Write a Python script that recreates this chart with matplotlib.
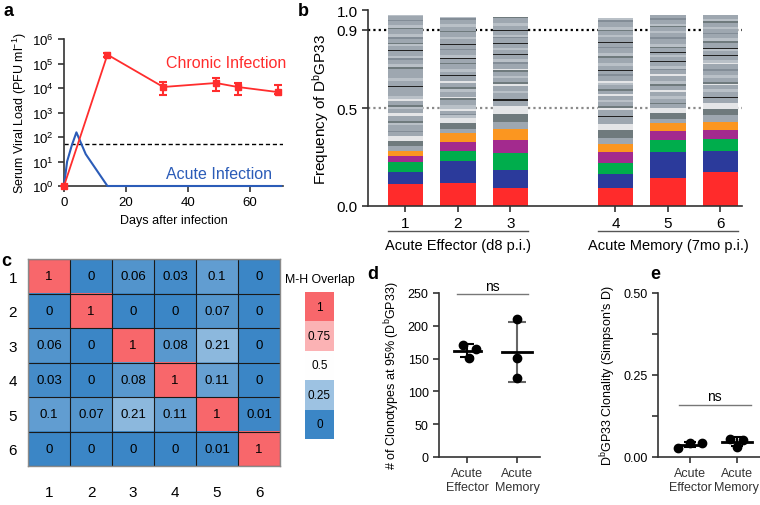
import numpy as np
import matplotlib.pyplot as plt
from matplotlib.colors import LinearSegmentedColormap
from matplotlib.ticker import NullLocator, FixedLocator

plt.rcParams['font.family'] = ['Liberation Sans', 'DejaVu Sans']
plt.rcParams['mathtext.fontset'] = 'custom'
plt.rcParams['mathtext.rm'] = 'Liberation Sans'
plt.rcParams['mathtext.it'] = 'Liberation Sans:italic'
plt.rcParams['axes.linewidth'] = 1.2
plt.rcParams['axes.edgecolor'] = '#333333'
plt.rcParams['xtick.major.width'] = 1.2
plt.rcParams['ytick.major.width'] = 1.2
plt.rcParams['xtick.color'] = '#333333'
plt.rcParams['ytick.color'] = '#333333'
plt.rcParams['xtick.labelcolor'] = 'black'
plt.rcParams['ytick.labelcolor'] = 'black'

# ---- panel a: viral load
acute_days = [0, 1, 2.5, 4, 7, 14, 70]
acute_load = [1, 10, 45, 155, 20, 1, 1]
chronic_days = [0, 14, 32, 49, 56, 69]
chronic_load = [1, 2.3e5, 1.1e4, 1.6e4, 1.1e4, 6.8e3]
chronic_low = [1, 1.9e5, 5.2e3, 7.7e3, 5.2e3, 5.5e3]
chronic_high = [1, 2.8e5, 1.7e4, 2.5e4, 1.65e4, 1.36e4]
detect_limit = 50

# ---- panel b: clonotype frequencies
samples = ['1', '2', '3', '4', '5', '6']
sample_pos = [1, 2, 3, 5, 6, 7]
top5 = [
    [0.111, 0.064, 0.048, 0.031, 0.027],
    [0.116, 0.114, 0.049, 0.045, 0.046],
    [0.092, 0.090, 0.087, 0.067, 0.059],
    [0.090, 0.072, 0.059, 0.052, 0.044],
    [0.141, 0.137, 0.061, 0.043, 0.039],
    [0.172, 0.107, 0.065, 0.043, 0.041],
]
# remaining clonotypes (per mille), with shade codes
rest_h1 = [26, 25, 26, 20, 4, 30, 10, 12, 25, 15, 20, 12, 10, 20, 8, 15, 30, 20, 5, 25, 12, 20, 5,
           25, 10, 12, 4, 20, 8, 12, 25, 4, 20, 10, 8, 20, 8, 15, 25, 8, 12, 20, 8, 18, 8]
rest_c1 = "mdwmsmldmwmldmwlmmkmlmkmdlkmslmkmldmslmdlmsml"
rest_h2 = [25, 28, 25, 15, 4, 20, 8, 20, 25, 10, 8, 25, 15, 10, 20, 8, 25, 5, 20, 12, 25, 8, 20,
           4, 15, 25, 8, 20, 4, 25, 10, 25, 8, 20, 15, 20, 8, 5]
rest_c2 = "mdwlsmwlmdwmldmwmkmlmdmklmsmkmlmdmlmsl"
rest_h3 = [35, 40, 38, 30, 8, 30, 10, 25, 10, 10, 20, 12, 20, 10, 8, 25, 10, 15, 20, 5, 20, 10,
           20, 4, 25, 8, 10, 20, 4, 20, 15, 25, 6]
rest_c3 = "mdwmkmlmwdmlmdwmslmkmlmkmslmkmlmd"
rest_h4 = [32, 40, 30, 33, 8, 30, 8, 12, 20, 10, 20, 10, 15, 10, 20, 15, 8, 25, 8, 20, 5, 20, 12,
           4, 25, 8, 15, 25, 8, 20, 4, 25, 10, 20, 8, 15, 25, 8, 9]
rest_c4 = "mdwmkmwdmlmwmdmlwmsmkmlkmdlmsmkmlmdlmsl"
rest_h5 = [25, 30, 25, 20, 6, 20, 12, 25, 8, 20, 10, 15, 25, 10, 20, 8, 15, 20, 5, 20, 10, 10, 5,
           20, 8, 15, 25, 8, 20, 10, 20, 8, 12, 20, 8, 16]
rest_c5 = "mdwmdmlmwmdlmwmslmkmlmkmdlmsmlmdlmsm"
rest_h6 = [35, 34, 31, 25, 5, 25, 12, 20, 10, 10, 20, 15, 20, 8, 25, 8, 15, 20, 5, 20, 12, 5, 25,
           8, 15, 20, 8, 20, 10, 20, 8, 12, 21]
rest_c6 = "mdwmkmlmwdmlmsmwlmkmlkmdlmsmlmdlm"
rest_h = [rest_h1, rest_h2, rest_h3, rest_h4, rest_h5, rest_h6]
rest_c = [rest_c1, rest_c2, rest_c3, rest_c4, rest_c5, rest_c6]

# ---- panel c: Morisita-Horn overlap
overlap = np.array([
    [1, 0, 0.06, 0.03, 0.1, 0],
    [0, 1, 0, 0, 0.07, 0],
    [0.06, 0, 1, 0.08, 0.21, 0],
    [0.03, 0, 0.08, 1, 0.11, 0],
    [0.1, 0.07, 0.21, 0.11, 1, 0.01],
    [0, 0, 0, 0, 0.01, 1],
])
legend_vals = [1, 0.75, 0.5, 0.25, 0]

# ---- panels d, e
groups = ['Acute\nEffector', 'Acute\nMemory']
clono_eff = [171, 164, 151]
clono_mem = [210, 151, 120]
clono_eff_dx = [-0.09, 0.18, 0.04]
clono_mem_dx = [0, 0, 0]
simp_eff = [0.028, 0.042, 0.042]
simp_mem = [0.056, 0.052, 0.031]
simp_eff_dx = [-0.25, 0, 0.25]
simp_mem_dx = [-0.14, 0.14, 0]

RED = '#ff2d2d'
BLUE = '#2b5cb8'
clone_cols = ['#ff2b2b', '#2b3a9b', '#00ad4c', '#a32a8e', '#fb9620']
shade = {'m': '#9ea7b0', 'd': '#6f7a7d', 'l': '#b9c0c7', 'w': '#e4e5e7',
         's': '#838d97', 'k': '#222222'}

W, H = 760, 506


def box(l, t, r, b):
    return [l / W, 1 - b / H, (r - l) / W, (b - t) / H]


fig = plt.figure(figsize=(7.6, 5.06), dpi=100)

# ================= a
ax = fig.add_axes(box(64, 40, 283, 187))
ax.set_yscale('log')
ax.axhline(detect_limit, color='k', lw=1, ls=(0, (3, 2)), zorder=1)
ax.plot(acute_days, acute_load, color=BLUE, lw=1.5, clip_on=False, zorder=3)
cl = np.array(chronic_load)
yerr = [cl - np.array(chronic_low), np.array(chronic_high) - cl]
ax.errorbar(chronic_days, chronic_load, yerr=yerr, fmt='s-', color=RED, ms=4.5, lw=1.3,
            elinewidth=1.5, capsize=3, capthick=1.5, clip_on=False, zorder=4)
ax.set_xlim(0, 70.6)
ax.set_ylim(1, 1e6)
ax.set_xticks([0, 20, 40, 60])
ax.set_yticks([10.0 ** k for k in range(7)])
ax.yaxis.set_minor_locator(NullLocator())
ax.tick_params(labelsize=9.5, length=4)
for s in ['top', 'right']:
    ax.spines[s].set_visible(False)
ax.set_xlabel('Days after infection', fontsize=9, labelpad=4)
ax.set_ylabel('Serum Viral Load (PFU ml$^{-1}$)', fontsize=9, labelpad=2)
ax.text(52.4, 10 ** 5.06, 'Chronic Infection', color=RED, fontsize=11.5, ha='center', va='center')
ax.text(50, 10 ** 0.53, 'Acute Infection', color=BLUE, fontsize=11.5, ha='center', va='center')

# ================= b
ax = fig.add_axes(box(368, 11, 742, 207))
bw = 0.67
for i, x in enumerate(sample_pos):
    bottom = 0
    for h, c in zip(top5[i], clone_cols):
        ax.bar(x, h, bw, bottom=bottom, color=c, lw=0, zorder=2)
        bottom += h
    for h, code in zip(rest_h[i], rest_c[i]):
        ax.bar(x, h / 1000, bw, bottom=bottom, color=shade[code], lw=0, zorder=2)
        bottom += h / 1000
ax.axhline(0.9, color='k', lw=1.6, ls=(0, (1, 1.4)), zorder=1)
ax.axhline(0.5, color='#8a8a8a', lw=1.6, ls=(0, (1, 1.4)), zorder=1)
ax.set_xlim(0.286, 7.41)
ax.set_ylim(0, 1)
ax.set_xticks(sample_pos)
ax.set_xticklabels(samples)
ax.set_yticks([0, 0.5, 0.9, 1.0])
ax.set_yticklabels(['0.0', '0.5', '0.9', '1.0'])
ax.tick_params(labelsize=11, length=4)
for s in ['top', 'right']:
    ax.spines[s].set_visible(False)
ax.set_ylabel(r'Frequency of D$^{\mathrm{b}}$GP33', fontsize=11, labelpad=4)
trans = ax.get_xaxis_transform()
for (a, b), name in [((1, 3), 'Acute Effector (d8 p.i.)'), ((5, 7), 'Acute Memory (7mo p.i.)')]:
    ax.plot([a - bw / 2, b + bw / 2], [-0.126, -0.126], color='#555555', lw=1,
            transform=trans, clip_on=False)
    ax.text((a + b) / 2, -0.2, name, transform=trans, ha='center', va='center', fontsize=10.5)

# ================= c
cmap = LinearSegmentedColormap.from_list('mh', ['#3b86c6', '#ffffff', '#f8676b'])
ax = fig.add_axes(box(28, 260, 280, 467))
ax.imshow(overlap, cmap=cmap, vmin=0, vmax=1, aspect='auto')
for r in range(overlap.shape[0]):
    for c in range(overlap.shape[1]):
        ax.text(c, r, f'{overlap[r, c]:g}', ha='center', va='center', fontsize=9.5)
ax.set_xticks(range(6))
ax.set_xticklabels(samples)
ax.set_yticks(range(6))
ax.set_yticklabels(samples)
ax.xaxis.set_minor_locator(FixedLocator(np.arange(-0.5, 6, 1)))
ax.yaxis.set_minor_locator(FixedLocator(np.arange(-0.5, 6, 1)))
ax.grid(which='minor', color='#1a1a1a', lw=0.8)
ax.tick_params(which='both', length=0, labelsize=11)
ax.tick_params(axis='x', pad=14)
ax.tick_params(axis='y', pad=8)
for s in ax.spines.values():
    s.set_color('#8a8a8a')
    s.set_linewidth(1)

cax = fig.add_axes(box(305, 293, 334, 440))
cax.imshow(np.array(legend_vals)[:, None], cmap=cmap, vmin=0, vmax=1, aspect='auto')
for k, v in enumerate(legend_vals):
    cax.text(0, k, f'{v:g}', ha='center', va='center', fontsize=8.5)
cax.set_xticks([])
cax.set_yticks([])
for s in cax.spines.values():
    s.set_visible(False)
fig.text(320 / W, 1 - 280 / H, 'M-H Overlap', ha='center', va='center', fontsize=8.8)


# ================= d, e
def scatter_panel(ax, vals_list, dx_list, mean_hw, cap_pts, err_cols):
    for i, (vals, dx) in enumerate(zip(vals_list, dx_list)):
        x = i + 1
        m = np.mean(vals)
        sd = np.std(vals, ddof=1)
        ax.errorbar(x, m, yerr=sd, color=err_cols[i], lw=1.5, capsize=cap_pts[i],
                    capthick=1.5, zorder=2)
        ax.plot([x - mean_hw[i], x + mean_hw[i]], [m, m], color='k', lw=2, zorder=3)
        ax.plot(x + np.array(dx), vals, 'o', color='k', ms=6, zorder=4, clip_on=False)
    ax.set_xticks([1, 2])
    ax.set_xticklabels(groups, fontsize=9, color='#333333')
    for s in ['top', 'right']:
        ax.spines[s].set_visible(False)
    ax.tick_params(labelsize=9, length=4)


ax = fig.add_axes(box(439, 294, 540, 458))
scatter_panel(ax, [clono_eff, clono_mem], [clono_eff_dx, clono_mem_dx],
              [0.27, 0.3], [5, 6.5], ['k', '#666666'])
ax.set_xlim(0.44, 2.46)
ax.set_ylim(0, 250)
ax.set_yticks(range(0, 251, 50))
ax.set_ylabel(r'# of Clonotypes at 95% (D$^{\mathrm{b}}$GP33)', fontsize=9, labelpad=4)
ax.plot([0.8, 2.22], [248, 248], color='#777777', lw=1, clip_on=False)
ax.text(1.51, 261, 'ns', ha='center', va='center', fontsize=10, clip_on=False)

ax = fig.add_axes(box(658, 294, 760, 458))
scatter_panel(ax, [simp_eff, simp_mem], [simp_eff_dx, simp_mem_dx],
              [0.22, 0.32], [4, 4], ['k', 'k'])
ax.set_xlim(0.31, 2.5)
ax.set_ylim(0, 0.5)
ax.set_yticks([0, 0.25, 0.5])
ax.set_yticklabels(['0.00', '0.25', '0.50'])
ax.yaxis.set_minor_locator(FixedLocator([0.125, 0.375]))
ax.tick_params(axis='y', which='minor', length=4, width=1.2)
ax.set_ylabel(r"D$^{\mathrm{b}}$GP33 Clonality (Simpson's D)", fontsize=9, labelpad=4)
ax.plot([0.76, 2.31], [0.158, 0.158], color='#777777', lw=1, clip_on=False)
ax.text(1.53, 0.185, 'ns', ha='center', va='center', fontsize=10)

# panel letters
for letter, (px, py) in zip('abcde', [(9, 12), (303, 12), (6, 262), (373, 275), (655, 275)]):
    fig.text(px / W, 1 - py / H, letter, fontsize=13, fontweight='bold', ha='center', va='center')

fig.savefig('out.png', dpi=100)
